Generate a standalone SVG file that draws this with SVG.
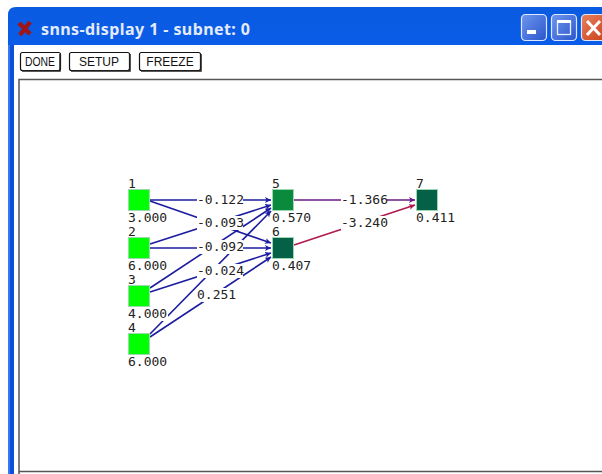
<svg xmlns="http://www.w3.org/2000/svg" width="602" height="474" viewBox="0 0 602 474">
<style>
.t{font-family:"DejaVu Sans Mono","Liberation Mono",monospace;font-size:13px;fill:#222}
.bg{fill:#fff}
.e{stroke:#1c1ca0;stroke-width:1.6;fill:none;marker-end:url(#a)}
.n{stroke:#9fd8b0;stroke-width:1}
.b{fill:#fff;stroke:#111;stroke-width:1.2}
.bs{fill:none;stroke:#222;stroke-width:1.5}
.bt{font-family:"Liberation Sans",Arial,sans-serif;font-size:12px;fill:#111;text-anchor:middle}
</style>
<defs>
<linearGradient id="tb" x1="0" y1="0" x2="0" y2="1"><stop offset="0" stop-color="#0a5be0"/><stop offset=".15" stop-color="#0a5ef0"/><stop offset=".8" stop-color="#0450dc"/><stop offset="1" stop-color="#0340b8"/></linearGradient>
<linearGradient id="bb" x1="0" y1="0" x2="1" y2="1"><stop offset="0" stop-color="#6f96ee"/><stop offset="1" stop-color="#2a55cc"/></linearGradient>
<linearGradient id="rb" x1="0" y1="0" x2="1" y2="1"><stop offset="0" stop-color="#e8805c"/><stop offset="1" stop-color="#c83a14"/></linearGradient>
<marker id="a" markerWidth="7" markerHeight="7" refX="6" refY="3" orient="auto" markerUnits="userSpaceOnUse"><path d="M0 0L6 3L0 6L1.500 3Z" fill="#1c1ca0"/></marker>
<marker id="p" markerWidth="7" markerHeight="7" refX="6" refY="3" orient="auto" markerUnits="userSpaceOnUse"><path d="M0 0L6 3L0 6L1.500 3Z" fill="#6a1a80"/></marker>
<marker id="r" markerWidth="7" markerHeight="7" refX="6" refY="3" orient="auto" markerUnits="userSpaceOnUse"><path d="M0 0L6 3L0 6L1.500 3Z" fill="#b01a50"/></marker>
</defs>
<rect width="602" height="474" fill="#fff"/>
<g id="window">
<path d="M8 474V15Q8 7 16 7H602V45H14V474Z" fill="url(#tb)"/>
<rect x="8" y="45" width="6" height="429" fill="#0a50dc"/>
<rect x="8" y="45" width="2" height="429" fill="#3a78ee"/>
<path d="M19 23L30 34M30 22L20 35" stroke="#a01414" stroke-width="4.500"/>
<text x="41" y="35" font-family="'Noto Sans','DejaVu Sans',sans-serif" font-size="16" font-weight="700" fill="#e4ecfc" textLength="209">snns-display 1 - subnet: 0</text>
<rect x="521.500" y="14.500" width="25" height="26" rx="4" fill="url(#bb)" stroke="#dfe8fb" stroke-width="1.200"/>
<rect x="527" y="30" width="9" height="4" fill="#fff"/>
<rect x="551.500" y="14.500" width="25" height="26" rx="4" fill="url(#bb)" stroke="#dfe8fb" stroke-width="1.200"/>
<rect x="557.500" y="21.500" width="13" height="13" fill="none" stroke="#e8eefc" stroke-width="1.300"/>
<rect x="557" y="20" width="14" height="3" fill="#fff"/>
<rect x="581.500" y="14.500" width="30" height="26" rx="4" fill="url(#rb)" stroke="#dfe8fb" stroke-width="1.200"/>
<path d="M587 21L600 35M600 21L587 35" stroke="#fff" stroke-width="3"/>
</g>
<g id="btn-done"><rect class="b" x="20.500" y="52.500" width="40" height="18" rx="2"/><path class="bs" d="M22 71H60V54"/><text class="bt" x="40" y="66" textLength="30" lengthAdjust="spacingAndGlyphs">DONE</text></g>
<g id="btn-setup"><rect class="b" x="69.500" y="52.500" width="60" height="18" rx="2"/><path class="bs" d="M71 71H130V54"/><text class="bt" x="99" y="66">SETUP</text></g>
<g id="btn-freeze"><rect class="b" x="139.500" y="52.500" width="61" height="18" rx="2"/><path class="bs" d="M141 71H201V54"/><text class="bt" x="170" y="66">FREEZE</text></g>
<path id="canvas" d="M19 474V79.500H602M19 471.500H602" fill="none" stroke="#555" stroke-width="1.500"/>
<g id="connectors">
<line class="e" x1="150" y1="200" x2="271" y2="200"/>
<line class="e" x1="150" y1="201" x2="271" y2="243"/>
<line class="e" x1="150" y1="244" x2="271" y2="205"/>
<line class="e" x1="150" y1="248" x2="271" y2="248"/>
<line class="e" x1="150" y1="288" x2="271" y2="208"/>
<line class="e" x1="150" y1="292" x2="271" y2="253"/>
<line class="e" x1="150" y1="334" x2="271" y2="211"/>
<line class="e" x1="150" y1="337" x2="271" y2="257"/>
<line x1="294" y1="200" x2="415" y2="200" stroke="#6a1a80" stroke-width="1.600" marker-end="url(#p)"/>
<line x1="294" y1="245" x2="415" y2="205" stroke="#b01a50" stroke-width="1.600" marker-end="url(#r)"/>
</g>
<g id="link-labels">
<rect class="bg" x="197" y="193" width="46" height="14"/><text class="t" x="197" y="204">-0.122</text>
<rect class="bg" x="197" y="216" width="46" height="14"/><text class="t" x="197" y="227">-0.093</text>
<rect class="bg" x="197" y="240" width="46" height="14"/><text class="t" x="197" y="251">-0.092</text>
<rect class="bg" x="197" y="264" width="46" height="14"/><text class="t" x="197" y="275">-0.024</text>
<rect class="bg" x="197" y="288" width="39" height="14"/><text class="t" x="197" y="299">0.251</text>
<rect class="bg" x="341" y="193" width="46" height="14"/><text class="t" x="341" y="204">-1.366</text>
<rect class="bg" x="341" y="216" width="46" height="14"/><text class="t" x="341" y="227">-3.240</text>
</g>
<g id="node-1"><rect class="n" x="128.500" y="189.500" width="21" height="21" fill="#00ff00"/><text class="t" x="128" y="188">1</text><rect class="bg" x="128" y="211" width="40" height="14"/><text class="t" x="128" y="222">3.000</text></g>
<g id="node-2"><rect class="n" x="128.500" y="237.500" width="21" height="21" fill="#00ff00"/><text class="t" x="128" y="236">2</text><rect class="bg" x="128" y="259" width="40" height="14"/><text class="t" x="128" y="270">6.000</text></g>
<g id="node-3"><rect class="n" x="128.500" y="285.500" width="21" height="21" fill="#00ff00"/><text class="t" x="128" y="284">3</text><rect class="bg" x="128" y="307" width="40" height="14"/><text class="t" x="128" y="318">4.000</text></g>
<g id="node-4"><rect class="n" x="128.500" y="333.500" width="21" height="21" fill="#00ff00"/><text class="t" x="128" y="332">4</text><text class="t" x="128" y="366">6.000</text></g>
<g id="node-5"><rect class="n" x="272.500" y="189.500" width="21" height="21" fill="#0a8a3c"/><text class="t" x="272" y="188">5</text><text class="t" x="272" y="222">0.570</text></g>
<g id="node-6"><rect class="n" x="272.500" y="237.500" width="21" height="21" fill="#056048"/><text class="t" x="272" y="236">6</text><text class="t" x="272" y="270">0.407</text></g>
<g id="node-7"><rect class="n" x="416.500" y="189.500" width="21" height="21" fill="#056048"/><text class="t" x="416" y="188">7</text><text class="t" x="416" y="222">0.411</text></g>
</svg>
